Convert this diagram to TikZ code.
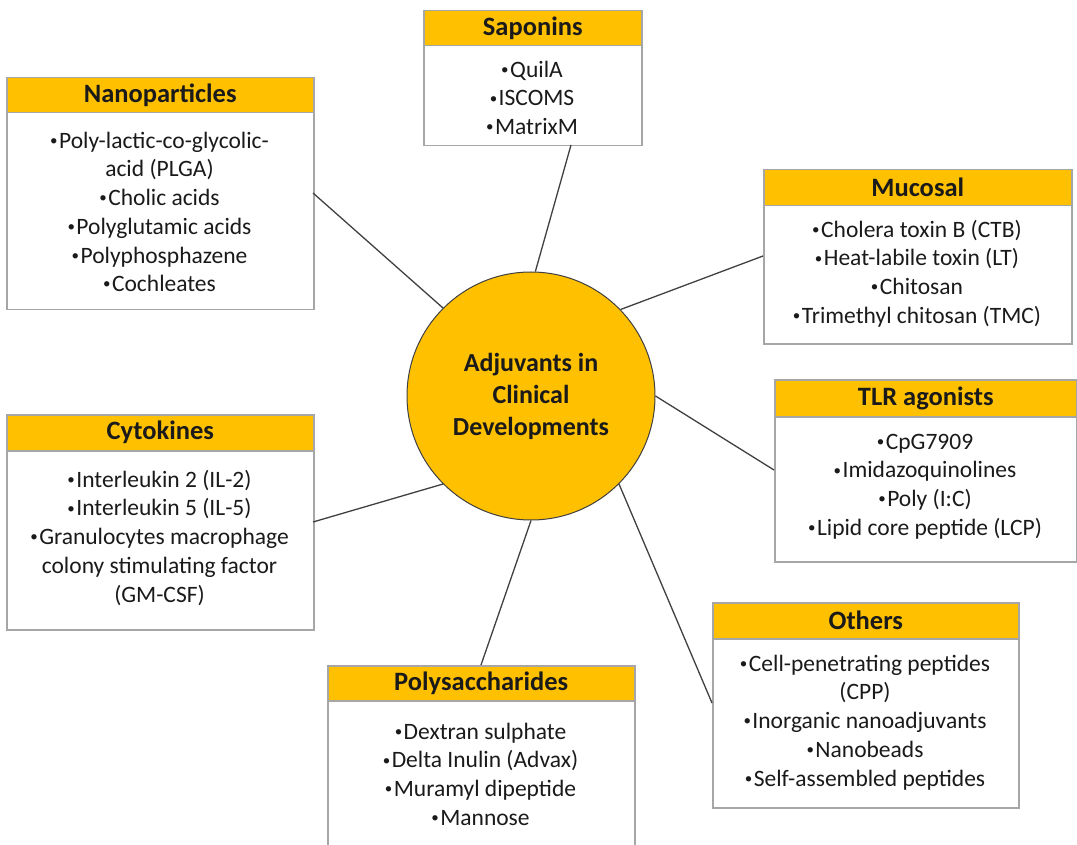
\documentclass[tikz,border=0pt]{standalone}
\usepackage{fontspec}
\setmainfont{Carlito}
\definecolor{gold}{HTML}{FFC000}
\definecolor{boxgray}{HTML}{A6A6A6}
\definecolor{linegray}{HTML}{404040}
\definecolor{txt}{HTML}{1A1A1A}
\newcommand\bul{\raisebox{0.12em}{\fontsize{15}{15}\selectfont•}\kern1.5pt}
\begin{document}
\begin{tikzpicture}[x=1pt,y=-1pt,
  bodybox/.style={draw=boxgray, line width=1.5pt, fill=white, rectangle, anchor=north west, inner sep=0pt},
  headbox/.style={draw=boxgray, line width=1.5pt, fill=gold, rectangle, anchor=north west, inner sep=0pt,
    font=\bfseries\fontsize{26.5}{29}\selectfont, text=txt},
  items/.style={anchor=north, inner sep=0pt, align=center, font=\fontsize{23.5}{28.7}\selectfont, text=txt},
  conn/.style={draw=linegray, line width=1.3pt}]
\useasboundingbox (0,0) rectangle (1077,845);
\clip (0,0) rectangle (1077,845);

% Nanoparticles
\node[bodybox, minimum width=307pt, minimum height=232pt] (nanoB) at (6,77) {};
\node[headbox, minimum width=307pt, minimum height=35pt] (nanoH) at (6,77) {Nanoparticles};
\node[items] (nanoT) at (159.5,128) {\strut\bul Poly-lactic-co-glycolic-\\acid (PLGA)\\\bul Cholic acids\\\bul Polyglutamic acids\\\bul Polyphosphazene\\\bul Cochleates};

% Saponins
\node[bodybox, minimum width=218pt, minimum height=135pt] (sapB) at (423,10) {};
\node[headbox, minimum width=218pt, minimum height=35pt] (sapH) at (423,10) {Saponins};
\node[items] (sapT) at (532,57) {\strut\bul QuilA\\\bul ISCOMS\\\bul MatrixM};

% Mucosal
\node[bodybox, minimum width=308pt, minimum height=174pt] (mucB) at (763,169) {};
\node[headbox, minimum width=308pt, minimum height=36pt] (mucH) at (763,169) {Mucosal};
\node[items] (mucT) at (917,217) {\strut\bul Cholera toxin B (CTB)\\\bul Heat-labile toxin (LT)\\\bul Chitosan\\\bul Trimethyl chitosan (TMC)};

% TLR agonists
\node[bodybox, minimum width=302pt, minimum height=182pt] (tlrB) at (774,379) {};
\node[headbox, minimum width=302pt, minimum height=37pt] (tlrH) at (774,379) {TLR agonists};
\node[items] (tlrT) at (925,429) {\strut\bul CpG7909\\\bul Imidazoquinolines\\\bul Poly (I:C)\\\bul Lipid core peptide (LCP)};

% Others
\node[bodybox, minimum width=306pt, minimum height=205pt] (othB) at (712,602) {};
\node[headbox, minimum width=306pt, minimum height=36pt] (othH) at (712,602) {Others};
\node[items] (othT) at (865,651) {\strut\bul Cell-penetrating peptides\\(CPP)\\\bul Inorganic nanoadjuvants\\\bul Nanobeads\\\bul Self-assembled peptides};

% Polysaccharides
\node[bodybox, minimum width=307pt, minimum height=190pt] (polB) at (327,665) {};
\node[headbox, minimum width=307pt, minimum height=35pt] (polH) at (327,665) {Polysaccharides};
\node[items] (polT) at (480.5,719) {\strut\bul Dextran sulphate\\\bul Delta Inulin (Advax)\\\bul Muramyl dipeptide\\\bul Mannose};

% Cytokines
\node[bodybox, minimum width=307pt, minimum height=215pt] (cytB) at (6,414) {};
\node[headbox, minimum width=307pt, minimum height=36pt] (cytH) at (6,414) {Cytokines};
\node[items] (cytT) at (159.5,467) {\strut\bul Interleukin 2 (IL-2)\\\bul Interleukin 5 (IL-5)\\\bul Granulocytes macrophage\\colony stimulating factor\\(GM-CSF)};

% Centre
\node[circle, draw=linegray, line width=1pt, fill=gold, minimum size=248pt, inner sep=0pt, align=center,
  font=\bfseries\fontsize{26}{32}\selectfont, text=txt] (c) at (531,396) {Adjuvants in\\Clinical\\Developments};

% Connector anchor points on the boxes
\coordinate (nanoP) at (313,193);
\coordinate (sapP) at (571,145);
\coordinate (mucP) at (763,256);
\coordinate (tlrP) at (774,470);
\coordinate (othP) at (712,703);
\coordinate (polP) at (481,665);
\coordinate (cytP) at (313,522);

\draw[conn] (nanoP) -- (c.135);
\draw[conn] (sapP) -- (c.88);
\draw[conn] (mucP) -- (c.44);
\draw[conn] (tlrP) -- (c.0);
\draw[conn] (othP) -- (c.-45);
\draw[conn] (polP) -- (c.-90);
\draw[conn] (cytP) -- (c.-135);
\end{tikzpicture}
\end{document}
